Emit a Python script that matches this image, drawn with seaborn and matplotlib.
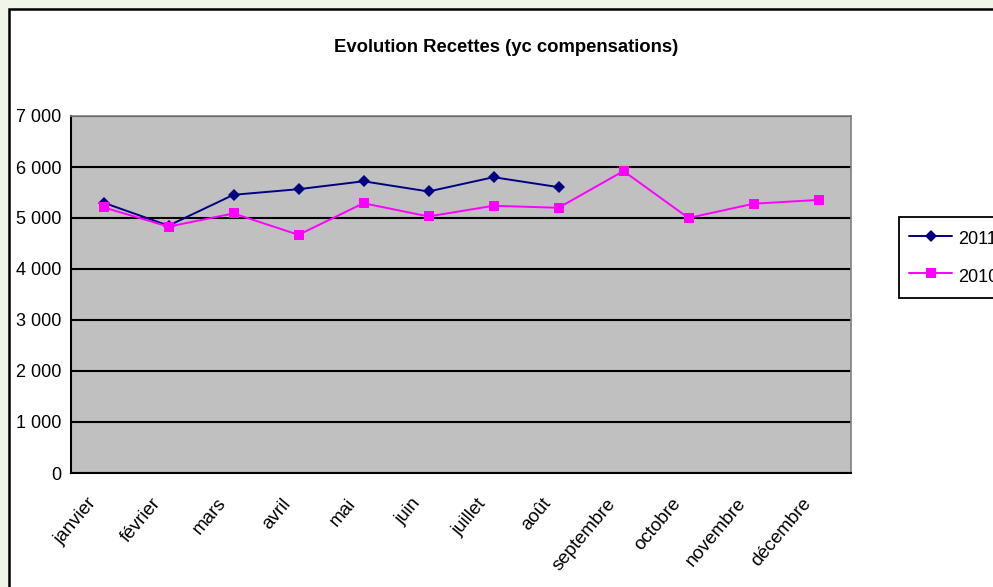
import pandas as pd
import seaborn as sns
import matplotlib.pyplot as plt
import matplotlib.transforms as mtransforms
from matplotlib.patches import Rectangle
from matplotlib.ticker import FuncFormatter, FixedLocator

# donnees
mois = ['janvier', 'février', 'mars', 'avril', 'mai', 'juin', 'juillet',
        'août', 'septembre', 'octobre', 'novembre', 'décembre']
recettes_2011 = [5300, 4850, 5455, 5565, 5720, 5520, 5800, 5605]
recettes_2010 = [5210, 4830, 5090, 4670, 5290, 5030, 5240, 5200, 5920, 5000, 5280, 5355]

rows = []
for i, v in enumerate(recettes_2011):
    rows.append({'pos': i, 'mois': mois[i], 'annee': '2011', 'recettes': v})
for i, v in enumerate(recettes_2010):
    rows.append({'pos': i, 'mois': mois[i], 'annee': '2010', 'recettes': v})
df = pd.DataFrame(rows)

sns.set_style('white')
plt.rcParams['font.family'] = ['Liberation Sans', 'DejaVu Sans']
plt.rcParams['text.color'] = 'black'
plt.rcParams['xtick.color'] = 'black'
plt.rcParams['ytick.color'] = 'black'

fig = plt.figure(figsize=(9.93, 5.87), dpi=100, facecolor='#EFF5E9')
# cadre blanc du graphique
fig.patches.append(Rectangle((9 / 993, -0.1), 1.1, 1 - 9 / 587 + 0.1,
                             transform=fig.transFigure, facecolor='white',
                             edgecolor='black', linewidth=1.8, zorder=-1))

ax = fig.add_axes([71 / 993, 1 - 473 / 587, (851 - 71) / 993, (473 - 116) / 587])
ax.set_zorder(1)
ax.set_facecolor('#C0C0C0')

sns.lineplot(data=df, x='pos', y='recettes', hue='annee', style='annee',
             hue_order=['2011', '2010'], style_order=['2011', '2010'],
             palette={'2011': '#000080', '2010': '#FF00FF'},
             markers={'2011': 'D', '2010': 's'}, dashes=False,
             markersize=7, markeredgewidth=0, linewidth=1.4, ax=ax, sort=False)

handles, labels = ax.get_legend_handles_labels()
# tailles des marqueurs : losange un peu plus petit que le carre
for ln in list(ax.lines) + list(handles):
    if ln.get_marker() == 'D':
        ln.set_markersize(6.6)
    elif ln.get_marker() == 's':
        ln.set_markersize(7.6)

ax.set_xlim(-0.5, len(mois) - 0.5)
ax.set_ylim(0, 7000)
ax.set_yticks(range(0, 7001, 1000))
ax.yaxis.set_major_formatter(FuncFormatter(lambda v, p: f'{int(v):,}'.replace(',', ' ')))
ax.grid(axis='y', color='black', linewidth=1.5)
ax.set_axisbelow(True)

# graduations aux limites des categories, etiquettes au centre
ax.xaxis.set_major_locator(FixedLocator(range(len(mois))))
ax.set_xticklabels(mois, rotation=50, ha='right', rotation_mode='anchor', fontsize=13.5)
ax.xaxis.set_minor_locator(FixedLocator([i - 0.5 for i in range(len(mois) + 1)]))
ax.tick_params(axis='x', which='major', length=0, pad=16)
ax.tick_params(axis='x', which='minor', length=5, width=1.2, color='black', direction='out')
ax.tick_params(axis='y', length=5, width=1.2, color='black', direction='out', labelsize=13, pad=2)
offset = mtransforms.ScaledTranslation(-17 / 100, 0, fig.dpi_scale_trans)
for lab in ax.get_xticklabels():
    lab.set_transform(lab.get_transform() + offset)

for side in ['left', 'bottom']:
    ax.spines[side].set_color('black')
    ax.spines[side].set_linewidth(1.5)
for side in ['top', 'right']:
    ax.spines[side].set_color('#808080')
    ax.spines[side].set_linewidth(1.2)

ax.set_xlabel('')
ax.set_ylabel('')

fig.text(0.51, 1 - 47 / 587, 'Evolution Recettes (yc compensations)',
         ha='center', va='center', fontsize=13.3, fontweight='bold', color='black')

ax.legend(handles, labels, loc='upper left', bbox_to_anchor=(899 / 993, 1 - 217 / 587),
          bbox_transform=fig.transFigure, fontsize=13, frameon=True, fancybox=False,
          edgecolor='black', framealpha=1, borderpad=0.55, labelspacing=0.8,
          handlelength=2.4, handleheight=1.6, handletextpad=0.33, borderaxespad=0)
ax.get_legend().get_frame().set_linewidth(1.3)

fig.savefig('out.png', dpi=100, facecolor=fig.get_facecolor())
